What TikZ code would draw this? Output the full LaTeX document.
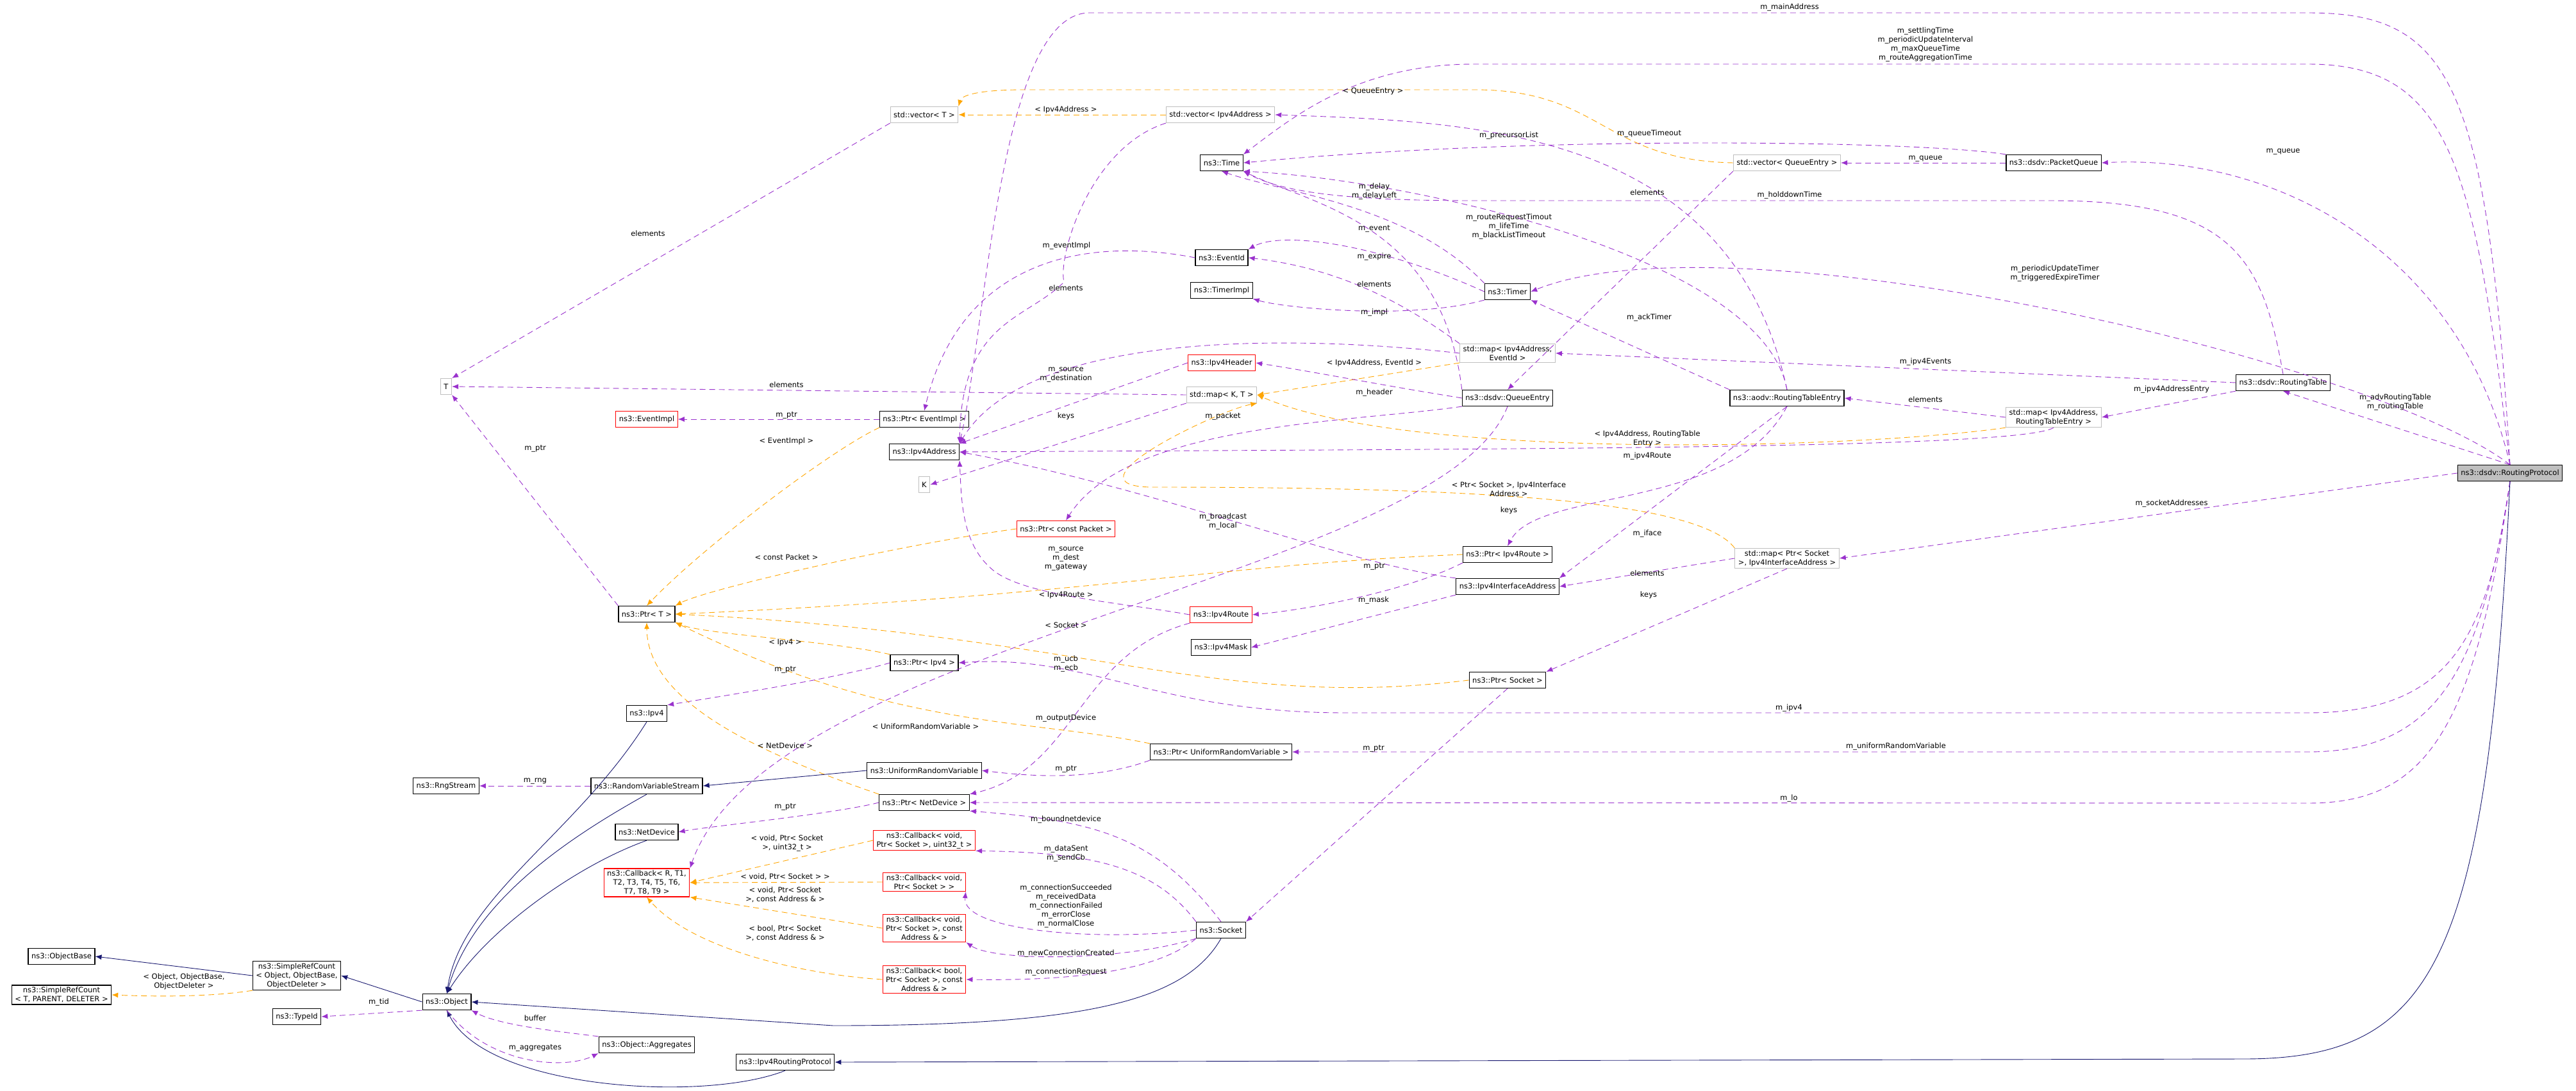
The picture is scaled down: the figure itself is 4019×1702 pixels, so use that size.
\documentclass[tikz,border=0pt]{standalone}
\usepackage{fontspec}
\setmainfont{DejaVu Sans}
\usetikzlibrary{arrows.meta}
\definecolor{memc}{HTML}{9A32CD}
\definecolor{tplc}{HTML}{FFA500}
\definecolor{inhc}{HTML}{191970}
\tikzset{
  cls/.style={draw=black,line width=1.2pt,fill=white,inner xsep=5pt,inner ysep=3pt,minimum height=25pt,align=center,font=\fontsize{11.5}{14}\selectfont},
  clsred/.style={cls,draw=red},
  clsgray/.style={cls,draw=black!25},
  lbl/.style={align=center,inner sep=0pt,font=\fontsize{11.5}{14}\selectfont},
  mem/.style={draw=memc,dash pattern=on 9pt off 6pt,line width=0.9pt,-{Latex[length=10pt,width=8pt]}},
  tpl/.style={draw=tplc,dash pattern=on 9pt off 6pt,line width=0.9pt,-{Latex[length=10pt,width=8pt]}},
  inh/.style={draw=inhc,line width=0.9pt,-{Latex[length=10pt,width=8pt]}},
}
\begin{document}
\begin{tikzpicture}[x=1pt,y=-1pt]
\useasboundingbox (0,0) rectangle (4019,1702);
% classes
\node[cls,fill=black!25] (rp) at (3916,738) {ns3::dsdv::RoutingProtocol};
\node[cls] (rtable) at (3562,597) {ns3::dsdv::RoutingTable};
\node[cls] (pqueue) at (3204,254) {ns3::dsdv::PacketQueue};
\node[clsgray] (vecqe) at (2788,254) {std::vector< QueueEntry >};
\node[clsgray] (maprte) at (3204,651) {std::map< Ipv4Address,\\RoutingTableEntry >};
\node[cls] (rte) at (2788,621) {ns3::aodv::RoutingTableEntry};
\node[clsgray] (mapsock) at (2788,871) {std::map< Ptr< Socket\\>, Ipv4InterfaceAddress >};
\node[clsgray] (mapev) at (2352,551) {std::map< Ipv4Address,\\EventId >};
\node[cls] (timer) at (2352,455) {ns3::Timer};
\node[cls] (qentry) at (2352,621) {ns3::dsdv::QueueEntry};
\node[cls] (pipv4route) at (2352,865) {ns3::Ptr< Ipv4Route >};
\node[cls] (ifaddr) at (2352,915) {ns3::Ipv4InterfaceAddress};
\node[cls] (psock) at (2352,1061) {ns3::Ptr< Socket >};
\node[cls] (mask) at (1905,1010) {ns3::Ipv4Mask};
\node[clsred] (route) at (1905,959) {ns3::Ipv4Route};
\node[cls] (purv) at (1905,1173) {ns3::Ptr< UniformRandomVariable >};
\node[cls] (socket) at (1905,1451) {ns3::Socket};
\node[cls] (time) at (1906,254) {ns3::Time};
\node[cls] (eventid) at (1906,402) {ns3::EventId};
\node[cls] (timerimpl) at (1906,453) {ns3::TimerImpl};
\node[clsred] (ipv4hdr) at (1906,566) {ns3::Ipv4Header};
\node[clsgray] (mapkt) at (1906,616) {std::map< K, T >};
\node[clsgray] (vecaddr) at (1904,179) {std::vector< Ipv4Address >};
\node[clsgray] (vect) at (1442,179) {std::vector< T >};
\node[cls] (pevimpl) at (1442,654) {ns3::Ptr< EventImpl >};
\node[cls] (addr) at (1442,705) {ns3::Ipv4Address};
\node[clsgray] (keyk) at (1442,756) {K};
\node[clsred] (ppkt) at (1663,825) {ns3::Ptr< const Packet >};
\node[cls] (pipv4) at (1442,1034) {ns3::Ptr< Ipv4 >};
\node[cls] (urv) at (1442,1202) {ns3::UniformRandomVariable};
\node[cls] (pnetdev) at (1442,1252) {ns3::Ptr< NetDevice >};
\node[clsred] (cbsent) at (1442,1311) {ns3::Callback< void,\\Ptr< Socket >, uint32\_t >};
\node[clsred] (cbsock) at (1442,1376) {ns3::Callback< void,\\Ptr< Socket > >};
\node[clsred] (cbaddr) at (1442,1448) {ns3::Callback< void,\\Ptr< Socket >, const\\Address \& >};
\node[clsred] (cbbool) at (1442,1528) {ns3::Callback< bool,\\Ptr< Socket >, const\\Address \& >};
\node[clsgray] (tt) at (696,603) {T};
\node[clsred] (evimpl) at (1009,654) {ns3::EventImpl};
\node[cls] (ptrt) at (1009,958) {ns3::Ptr< T >};
\node[cls] (ipv4) at (1009,1113) {ns3::Ipv4};
\node[cls] (rng) at (696,1226) {ns3::RngStream};
\node[cls] (rvs) at (1009,1226) {ns3::RandomVariableStream};
\node[cls] (netdev) at (1009,1298) {ns3::NetDevice};
\node[clsred] (cbgen) at (1009,1377) {ns3::Callback< R, T1,\\T2, T3, T4, T5, T6,\\T7, T8, T9 >};
\node[cls] (objbase) at (96,1492) {ns3::ObjectBase};
\node[cls] (srcobj) at (463,1522) {ns3::SimpleRefCount\\< Object, ObjectBase,\\ObjectDeleter >};
\node[cls] (srct) at (96,1552) {ns3::SimpleRefCount\\< T, PARENT, DELETER >};
\node[cls] (object) at (697,1563) {ns3::Object};
\node[cls] (typeid) at (463,1586) {ns3::TypeId};
\node[cls] (aggr) at (1009,1630) {ns3::Object::Aggregates};
\node[cls] (ipv4rp) at (1225,1657) {ns3::Ipv4RoutingProtocol};
% members of RoutingProtocol
\draw[mem] (rp.north) .. controls (3880,120) and (3820,20) .. (3600,20) -- (1700,20) .. controls (1560,20) and (1540,500) .. (addr.north east);
\draw[mem] (rp.north) .. controls (3860,250) and (3820,100) .. (3600,100) -- (2300,100) .. controls (2120,100) and (2020,180) .. (time.north east);
\draw[mem] (rp.north) .. controls (3840,400) and (3560,240) .. (pqueue.east);
\draw[mem] (rp.north) -- (rtable.south);
\draw[mem] (rp.north) .. controls (3700,560) and (2700,330) .. (timer.east);
\draw[mem] (rp.west) -- (mapsock.east);
\draw[mem] (rp.south) .. controls (3880,1000) and (3820,1112) .. (3600,1112) -- (2100,1112) .. controls (1800,1112) and (1700,1020) .. (pipv4.east);
\draw[mem] (rp.south) .. controls (3870,1050) and (3800,1173) .. (3600,1173) -- (purv.east);
\draw[mem] (rp.south) .. controls (3860,1150) and (3780,1253) .. (3600,1253) -- (pnetdev.east);
\draw[inh] (rp.south) .. controls (3880,1500) and (3800,1652) .. (3500,1652) -- (ipv4rp.east);
% other members
\draw[mem] (rtable.north) .. controls (3530,400) and (3480,313) .. (3200,313) -- (2300,313) .. controls (2100,313) and (2000,300) .. (time.south east);
\draw[mem] (rtable.west) -- (mapev.east);
\draw[mem] (rtable.south west) -- (maprte.east);
\draw[mem] (pqueue.west) -- (vecqe.east);
\draw[mem] (pqueue.north west) .. controls (3000,220) and (2400,210) .. (time.east);
\draw[tpl] (vecqe.west) .. controls (2500,250) and (2500,140) .. (2300,140) -- (1600,140) .. controls (1520,140) and (1500,150) .. (vect.north east);
\draw[mem] (vecqe.south west) -- (qentry.north);
\draw[mem] (maprte.west) -- (rte.east);
\draw[tpl] (maprte.south west) .. controls (2900,700) and (2200,720) .. (mapkt.east);
\draw[mem] (maprte.south) .. controls (3150,700) and (2400,700) .. (addr.east);
\draw[mem] (rte.north) .. controls (2700,200) and (2300,190) .. (vecaddr.east);
\draw[mem] (rte.north) .. controls (2750,400) and (2200,280) .. (time.south east);
\draw[mem] (rte.north west) -- (timer.south east);
\draw[mem] (rte.south) .. controls (2700,800) and (2400,760) .. (pipv4route.north);
\draw[mem] (rte.south) -- (ifaddr.north east);
\draw[tpl] (mapsock.north west) .. controls (2650,780) and (2300,760) .. (1800,760) .. controls (1650,760) and (1900,640) .. (mapkt.south east);
\draw[mem] (mapsock.west) -- (ifaddr.east);
\draw[mem] (mapsock.south) -- (psock.north east);
\draw[mem] (mapev.north west) .. controls (2200,480) and (2100,420) .. (eventid.east);
\draw[mem] (mapev.west) .. controls (2000,520) and (1600,520) .. (addr.north east);
\draw[tpl] (mapev.south west) -- (mapkt.east);
\draw[mem] (timer.north west) .. controls (2200,320) and (2000,300) .. (time.south);
\draw[mem] (timer.west) .. controls (2150,380) and (2000,360) .. (eventid.north east);
\draw[mem] (timer.south west) .. controls (2200,500) and (2000,480) .. (timerimpl.south east);
\draw[mem] (qentry.north west) .. controls (2250,350) and (2050,320) .. (time.south east);
\draw[mem] (qentry.west) .. controls (2150,600) and (2050,580) .. (ipv4hdr.east);
\draw[mem] (qentry.south west) .. controls (2100,660) and (1760,660) .. (ppkt.north);
\draw[mem] (qentry.south) .. controls (2250,900) and (1200,1000) .. (cbgen.north east);
\draw[mem] (pipv4route.south west) .. controls (2200,920) and (2050,950) .. (route.east);
\draw[tpl] (pipv4route.west) .. controls (1900,880) and (1700,930) .. (ptrt.east);
\draw[mem] (ifaddr.north west) .. controls (2100,880) and (1800,760) .. (addr.east);
\draw[mem] (ifaddr.south west) -- (mask.east);
\draw[mem] (psock.south) -- (socket.north east);
\draw[tpl] (psock.west) .. controls (1900,1110) and (1700,990) .. (ptrt.east);
\draw[mem] (route.west) .. controls (1750,940) and (1600,930) .. (1550,890) .. controls (1500,850) and (1500,780) .. (addr.south east);
\draw[mem] (route.south west) .. controls (1680,1020) and (1680,1200) .. (pnetdev.north east);
\draw[mem] (purv.south west) .. controls (1700,1220) and (1600,1210) .. (urv.east);
\draw[tpl] (purv.north west) .. controls (1600,1120) and (1400,1140) .. (ptrt.south east);
\draw[mem] (socket.north) .. controls (1800,1300) and (1700,1280) .. (pnetdev.south east);
\draw[mem] (socket.north west) .. controls (1800,1350) and (1700,1330) .. (cbsent.south east);
\draw[mem] (socket.west) .. controls (1700,1470) and (1500,1450) .. (cbsock.south east);
\draw[mem] (socket.south west) .. controls (1750,1500) and (1550,1500) .. (cbaddr.south east);
\draw[mem] (socket.south west) .. controls (1800,1520) and (1650,1530) .. (cbbool.east);
\draw[inh] (socket.south) .. controls (1850,1560) and (1700,1600) .. (1300,1600) -- (object.east);
\draw[mem] (ipv4hdr.west) -- (addr.north east);
\draw[mem] (mapkt.west) -- (tt.east);
\draw[mem] (mapkt.south west) -- (keyk.east);
\draw[tpl] (vecaddr.west) -- (vect.east);
\draw[mem] (vecaddr.south west) .. controls (1700,230) and (1650,400) .. (1660,440) .. controls (1600,500) and (1500,500) .. (addr.north east);
\draw[mem] (vect.south west) -- (tt.north east);
\draw[mem] (eventid.west) .. controls (1700,370) and (1500,400) .. (pevimpl.north);
\draw[mem] (pevimpl.west) -- (evimpl.east);
\draw[tpl] (pevimpl.south west) .. controls (1300,700) and (1100,850) .. (ptrt.north);
\draw[tpl] (ppkt.west) .. controls (1400,850) and (1100,920) .. (ptrt.north east);
\draw[mem] (ptrt.north west) -- (tt.south east);
\draw[mem] (pipv4.west) .. controls (1300,1060) and (1100,1090) .. (ipv4.north east);
\draw[tpl] (pipv4.north west) .. controls (1300,1000) and (1100,990) .. (ptrt.south east);
\draw[mem] (pnetdev.west) .. controls (1300,1270) and (1100,1290) .. (netdev.east);
\draw[tpl] (pnetdev.north west) .. controls (1200,1180) and (1010,1100) .. (ptrt.south);
\draw[tpl] (cbsent.west) -- (cbgen.east);
\draw[tpl] (cbsock.west) -- (cbgen.east);
\draw[tpl] (cbaddr.west) -- (cbgen.south east);
\draw[tpl] (cbbool.west) .. controls (1250,1520) and (1080,1480) .. (cbgen.south);
\draw[inh] (urv.west) -- (rvs.east);
\draw[mem] (rvs.west) -- (rng.east);
\draw[inh] (ipv4.south) .. controls (900,1300) and (720,1400) .. (object.north);
\draw[inh] (rvs.south) .. controls (900,1300) and (740,1400) .. (object.north);
\draw[inh] (netdev.south) .. controls (900,1350) and (760,1450) .. (object.north);
\draw[inh] (ipv4rp.south) .. controls (1100,1720) and (760,1700) .. (object.south);
\draw[inh] (object.west) -- (srcobj.east);
\draw[inh] (srcobj.west) -- (objbase.east);
\draw[tpl] (srcobj.south west) .. controls (330,1555) and (250,1555) .. (srct.east);
\draw[mem] (object.south west) -- (typeid.east);
\draw[mem] (aggr.north west) .. controls (880,1610) and (780,1600) .. (object.south east);
\draw[mem] (object.south) .. controls (760,1660) and (880,1670) .. (aggr.south west);
% labels
\node[lbl] (l01) at (2792,11) {m\_mainAddress};
\node[lbl] (l02) at (3004,69) {m\_settlingTime\\m\_periodicUpdateInterval\\m\_maxQueueTime\\m\_routeAggregationTime};
\node[lbl] (l03) at (3562,237) {m\_queue};
\node[lbl] (l04) at (3737,627) {m\_advRoutingTable\\m\_routingTable};
\node[lbl] (l05) at (3206,426) {m\_periodicUpdateTimer\\m\_triggeredExpireTimer};
\node[lbl] (l06) at (3388,785) {m\_socketAddresses};
\node[lbl] (l07) at (2791,1104) {m\_ipv4};
\node[lbl] (l08) at (2958,1164) {m\_uniformRandomVariable};
\node[lbl] (l09) at (2791,1245) {m\_lo};
\node[lbl] (l10) at (2792,304) {m\_holddownTime};
\node[lbl] (l11) at (3004,564) {m\_ipv4Events};
\node[lbl] (l12) at (3388,607) {m\_ipv4AddressEntry};
\node[lbl] (l13) at (3004,248) {m\_queue};
\node[lbl] (l14) at (2573,208) {m\_queueTimeout};
\node[lbl] (l15) at (2142,142) {< QueueEntry >};
\node[lbl] (l16) at (2570,300) {elements};
\node[lbl] (l17) at (3004,623) {elements};
\node[lbl] (l18) at (2570,684) {< Ipv4Address, RoutingTable\\Entry >};
\node[lbl] (l19) at (2570,711) {m\_ipv4Route};
\node[lbl] (l20) at (2354,211) {m\_precursorList};
\node[lbl] (l21) at (2354,353) {m\_routeRequestTimout\\m\_lifeTime\\m\_blackListTimeout};
\node[lbl] (l22) at (2573,495) {m\_ackTimer};
\node[lbl] (l23) at (2570,832) {m\_iface};
\node[lbl] (l24) at (2354,763) {< Ptr< Socket >, Ipv4Interface\\Address >};
\node[lbl] (l25) at (2570,894) {elements};
\node[lbl] (l26) at (2572,928) {keys};
\node[lbl] (l27) at (2144,443) {elements};
\node[lbl] (l28) at (2354,796) {keys};
\node[lbl] (l29) at (2144,566) {< Ipv4Address, EventId >};
\node[lbl] (l30) at (2144,298) {m\_delay\\m\_delayLeft};
\node[lbl] (l31) at (2144,357) {m\_event};
\node[lbl] (l32) at (2144,487) {m\_impl};
\node[lbl] (l33) at (2144,400) {m\_expire};
\node[lbl] (l34) at (2144,612) {m\_header};
\node[lbl] (l35) at (1908,649) {m\_packet};
\node[lbl] (l36) at (1663,1035) {m\_ucb\\m\_ecb};
\node[lbl] (l37) at (2144,884) {m\_ptr};
\node[lbl] (l38) at (1663,928) {< Ipv4Route >};
\node[lbl] (l39) at (1908,813) {m\_broadcast\\m\_local};
\node[lbl] (l40) at (2143,936) {m\_mask};
\node[lbl] (l41) at (2143,1168) {m\_ptr};
\node[lbl] (l42) at (1663,975) {< Socket >};
\node[lbl] (l43) at (1663,872) {m\_source\\m\_dest\\m\_gateway};
\node[lbl] (l44) at (1663,1120) {m\_outputDevice};
\node[lbl] (l45) at (1663,1200) {m\_ptr};
\node[lbl] (l46) at (1444,1133) {< UniformRandomVariable >};
\node[lbl] (l47) at (1663,1278) {m\_boundnetdevice};
\node[lbl] (l48) at (1663,1331) {m\_dataSent\\m\_sendCb};
\node[lbl] (l49) at (1663,1413) {m\_connectionSucceeded\\m\_receivedData\\m\_connectionFailed\\m\_errorClose\\m\_normalClose};
\node[lbl] (l50) at (1663,1487) {m\_newConnectionCreated};
\node[lbl] (l51) at (1663,1516) {m\_connectionRequest};
\node[lbl] (l52) at (1663,585) {m\_source\\m\_destination};
\node[lbl] (l53) at (1227,600) {elements};
\node[lbl] (l54) at (1663,649) {keys};
\node[lbl] (l55) at (1663,171) {< Ipv4Address >};
\node[lbl] (l56) at (1663,449) {elements};
\node[lbl] (l57) at (1011,364) {elements};
\node[lbl] (l58) at (1664,383) {m\_eventImpl};
\node[lbl] (l59) at (1227,648) {m\_ptr};
\node[lbl] (l60) at (1227,688) {< EventImpl >};
\node[lbl] (l61) at (1227,869) {< const Packet >};
\node[lbl] (l62) at (835,700) {m\_ptr};
\node[lbl] (l63) at (1225,1045) {m\_ptr};
\node[lbl] (l64) at (1225,1002) {< Ipv4 >};
\node[lbl] (l65) at (1225,1259) {m\_ptr};
\node[lbl] (l66) at (1225,1163) {< NetDevice >};
\node[lbl] (l67) at (1228,1315) {< void, Ptr< Socket\\>, uint32\_t >};
\node[lbl] (l68) at (1225,1368) {< void, Ptr< Socket > >};
\node[lbl] (l69) at (1225,1396) {< void, Ptr< Socket\\>, const Address \& >};
\node[lbl] (l70) at (1225,1456) {< bool, Ptr< Socket\\>, const Address \& >};
\node[lbl] (l71) at (835,1219) {m\_rng};
\node[lbl] (l72) at (287,1531) {< Object, ObjectBase,\\ObjectDeleter >};
\node[lbl] (l73) at (591,1563) {m\_tid};
\node[lbl] (l74) at (835,1588) {buffer};
\node[lbl] (l75) at (835,1635) {m\_aggregates};
\end{tikzpicture}
\end{document}
